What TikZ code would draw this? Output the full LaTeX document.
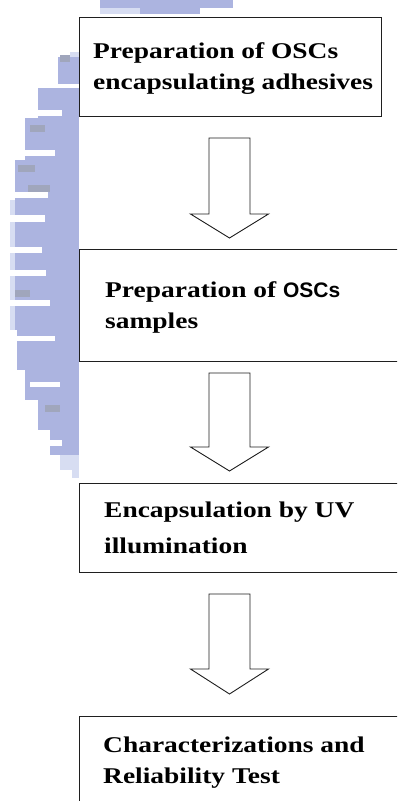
\documentclass[tikz,border=0pt]{standalone}
\usepackage{fontspec}
\setmainfont{Liberation Serif}[FakeStretch=1.22]
\newfontfamily\oscfont{Liberation Sans}
\definecolor{wm}{RGB}{172,180,224}
\definecolor{wmlight}{RGB}{215,221,242}
\definecolor{wmgray}{RGB}{160,166,188}
\begin{document}
\begin{tikzpicture}[x=1pt,y=-1pt,
  box/.style={draw=black!88, line width=1.2pt, fill=white, inner sep=0pt, anchor=north west},
  blockarrow/.style={draw=black!88, line width=0.9pt, fill=white, line join=miter},
  txt/.style={anchor=base west, inner sep=0pt, font=\fontsize{22.5}{27}\selectfont\bfseries}]
\useasboundingbox (0,0) rectangle (397,801);
\clip (0,0) rectangle (397,801);
\fill[white] (0,0) rectangle (397,801);
% watermark (pixelated logo fragment)
\fill[wmlight] (70,52) rectangle (79,58);
\fill[wm] (58,57) rectangle (79,84);
\fill[wm] (38,88) rectangle (79,118);
\fill[wm] (25,118) rectangle (79,160);
\fill[wm] (15,160) rectangle (79,200);
\fill[wm] (10,200) rectangle (79,330);
\fill[wm] (17,330) rectangle (79,370);
\fill[wm] (25,370) rectangle (79,400);
\fill[wm] (38,400) rectangle (79,430);
\fill[wm] (50,430) rectangle (79,455);
\fill[wmlight] (60,455) rectangle (79,470);
\fill[wmlight] (72,470) rectangle (79,478);
\fill[wmgray] (60,55) rectangle (70,62);
\fill[wmgray] (30,125) rectangle (45,132);
\fill[wmgray] (18,165) rectangle (35,172);
\fill[wmgray] (28,185) rectangle (50,192);
\fill[wmgray] (10,290) rectangle (30,297);
\fill[wmgray] (45,405) rectangle (60,412);
\fill[wmlight] (10,200) rectangle (15,330);
\fill[white] (38,110) rectangle (62,116);
\fill[white] (25,150) rectangle (55,156);
\fill[white] (15,192) rectangle (48,198);
\fill[white] (10,215) rectangle (45,222);
\fill[white] (10,247) rectangle (42,253);
\fill[white] (10,270) rectangle (46,276);
\fill[white] (10,300) rectangle (50,306);
\fill[white] (17,336) rectangle (55,341);
\fill[white] (30,382) rectangle (60,387);
\fill[white] (50,440) rectangle (62,446);
\fill[wm] (100,0) rectangle (233,14);
\fill[wmlight] (100,8) rectangle (140,14);
\fill[white] (200,8) rectangle (233,14);
% boxes
\node[box, minimum width=302pt, minimum height=99pt] (b1) at (79,17) {};
\node[box, minimum width=330pt, minimum height=112pt] (b2) at (79,249) {};
\node[box, minimum width=330pt, minimum height=89pt] (b3) at (79,483) {};
\node[box, minimum width=330pt, minimum height=120pt] (b4) at (79,716) {};
% block arrows
\coordinate (a1) at (229.5,138);
\coordinate (a2) at (229.5,373);
\coordinate (a3) at (229.5,594);
\draw[blockarrow] (a1) +(-20.5,0) -- +(20.5,0) -- +(20.5,76) -- +(39,76) -- +(0,100) -- +(-39,76) -- +(-20.5,76) -- cycle;
\draw[blockarrow] (a2) +(-20.5,0) -- +(20.5,0) -- +(20.5,74) -- +(39,74) -- +(0,98) -- +(-39,74) -- +(-20.5,74) -- cycle;
\draw[blockarrow] (a3) +(-20.5,0) -- +(20.5,0) -- +(20.5,75) -- +(39,75) -- +(0,100) -- +(-39,75) -- +(-20.5,75) -- cycle;
% texts
\node[txt] (t1a) at (93,58) {Preparation of OSCs};
\node[txt] (t1b) at (93,89) {encapsulating adhesives};
\node[txt] (t2a) at (105,297) {Preparation of {\oscfont\fontsize{21}{25}\selectfont OSCs}};
\node[txt] (t2b) at (105,328) {samples};
\node[txt] (t3a) at (104,517) {Encapsulation by UV};
\node[txt] (t3b) at (104,553) {illumination};
\node[txt] (t4a) at (103,752) {Characterizations and};
\node[txt] (t4b) at (103,783) {Reliability Test};
\end{tikzpicture}
\end{document}
